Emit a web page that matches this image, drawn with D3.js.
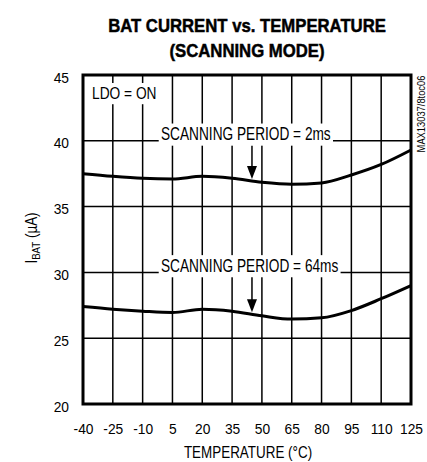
<!DOCTYPE html>
<html><head><meta charset="utf-8">
<script src="https://cdn.jsdelivr.net/npm/d3@7"></script>
<style>
body{margin:0;background:#fff;}
svg{display:block;}
</style></head>
<body>
<svg id="chart" width="427" height="462"></svg>
<script>
const temps = [-40, -25, -10, 5, 20, 35, 50, 65, 80, 95, 110, 125];
const period2ms = [37.5, 37.3, 37.15, 37.1, 37.3, 37.15, 36.85, 36.7, 36.8, 37.4, 38.2, 39.3];
const period64ms = [27.4, 27.2, 27.05, 26.95, 27.2, 27.05, 26.7, 26.45, 26.55, 27.1, 28.0, 29.0];
const xTicks = [-40, -25, -10, 5, 20, 35, 50, 65, 80, 95, 110, 125];
const yTicks = [20, 25, 30, 35, 40, 45];
const labels = [
  {text: "SCANNING PERIOD = 2ms", gridY: 40, arrowT: 45, series: period2ms},
  {text: "SCANNING PERIOD = 64ms", gridY: 30, arrowT: 45, series: period64ms}
];

const FONT = "'Liberation Sans',Arial,sans-serif";
const svg = d3.select("#chart");
const L = 83, R = 411, T = 75, B = 404;
const x = d3.scaleLinear().domain([-40, 125]).range([L, R]);
const y = d3.scaleLinear().domain([20, 45]).range([B, T]);

function sText(px, py, str, opts) {
  const g = svg.append("g").attr("transform", `translate(${px},${py}) ${opts.rotate ? "rotate(" + opts.rotate + ")" : ""} scale(${opts.sx},1)`);
  const t = g.append("text").attr("x", 0).attr("y", 0).attr("text-anchor", opts.anchor || "start")
    .attr("font-family", FONT).attr("font-size", opts.size).attr("fill", "#000")
    .attr("font-weight", opts.bold ? "bold" : null).text(str);
  if (opts.bold) t.attr("stroke", "#000").attr("stroke-width", 0.5);
  return {g, t};
}

// title
sText(247, 32, "BAT CURRENT vs. TEMPERATURE", {anchor: "middle", bold: true, size: 19, sx: 0.88});
sText(247, 56.5, "(SCANNING MODE)", {anchor: "middle", bold: true, size: 19, sx: 0.88});

// grid
const grid = svg.append("g").attr("stroke", "#000").attr("stroke-width", 1.5);
xTicks.slice(1, -1).forEach(t => grid.append("line").attr("x1", x(t)).attr("x2", x(t)).attr("y1", T).attr("y2", B));
yTicks.slice(1, -1).forEach(t => grid.append("line").attr("x1", L).attr("x2", R).attr("y1", y(t)).attr("y2", y(t)));

// axes (tick labels)
const TS = 15, TSX = 0.92;
const xAxis = d3.axisBottom(x).tickValues(xTicks).tickSize(0).tickFormat(d => String(d));
const gx = svg.append("g").attr("transform", `translate(0,${B})`).call(xAxis);
gx.select(".domain").remove();
gx.selectAll("text").attr("font-family", FONT).attr("font-size", TS).attr("fill", "#000")
  .attr("y", 0).attr("dy", null).attr("transform", `translate(0,29.5) scale(${TSX},1)`);
const yAxis = d3.axisLeft(y).tickValues(yTicks).tickSize(0).tickFormat(d => String(d));
const gy = svg.append("g").attr("transform", `translate(${L},0)`).call(yAxis);
gy.select(".domain").remove();
gy.selectAll("text").attr("font-family", FONT).attr("font-size", TS).attr("fill", "#000")
  .attr("x", 0).attr("dy", null).attr("y", 0).attr("transform", `translate(-14,7) scale(${TSX},1)`);

// label boxes
function boxedText(tx, ty, str, size, sx) {
  const o = sText(tx, ty, str, {size, sx});
  const bb = o.t.node().getBBox();
  o.g.insert("rect", "text").attr("fill", "#fff")
    .attr("x", bb.x - 3).attr("y", bb.y - 1).attr("width", bb.width + 6).attr("height", bb.height + 3);
  return {top: ty + bb.y - 1, bottom: ty + bb.y + bb.height + 2};
}
boxedText(92, 99, "LDO = ON", 16, 0.86);

const line = d3.line().x((d, i) => x(temps[i])).y(d => y(d)).curve(d3.curveMonotoneX);

labels.forEach(lb => {
  const bb = boxedText(161, y(lb.gridY) - 0.5, lb.text, 18, 0.76);
  const ax = x(lb.arrowT);
  const i0 = temps.findIndex(t => t > lb.arrowT) - 1;
  const f = (lb.arrowT - temps[i0]) / (temps[i0 + 1] - temps[i0]);
  const v = lb.series[i0] + f * (lb.series[i0 + 1] - lb.series[i0]);
  const tipY = y(v) - 2;
  svg.append("line").attr("x1", ax).attr("x2", ax).attr("y1", bb.bottom).attr("y2", tipY - 10)
    .attr("stroke", "#000").attr("stroke-width", 1.5);
  svg.append("path").attr("d", `M${ax - 5},${tipY - 13} L${ax + 5},${tipY - 13} L${ax},${tipY} Z`).attr("fill", "#000");
  svg.append("path").datum(lb.series).attr("d", line).attr("fill", "none").attr("stroke", "#000").attr("stroke-width", 3);
});

// frame
svg.append("rect").attr("x", L).attr("y", T).attr("width", R - L).attr("height", B - T)
  .attr("fill", "none").attr("stroke", "#000").attr("stroke-width", 3);

// axis titles
sText(248, 458, "TEMPERATURE (°C)", {anchor: "middle", size: 16, sx: 0.84});
const yt = sText(37, 238, "", {anchor: "middle", rotate: -90, size: 16, sx: 0.84}).t;
yt.append("tspan").text("I");
yt.append("tspan").attr("font-size", 11.5).attr("dy", 3).text("BAT");
yt.append("tspan").attr("dy", -3).text(" (µA)");

sText(425, 114, "MAX13037/8toc06", {anchor: "middle", rotate: -90, size: 11, sx: 0.85});
</script>
</body></html>
